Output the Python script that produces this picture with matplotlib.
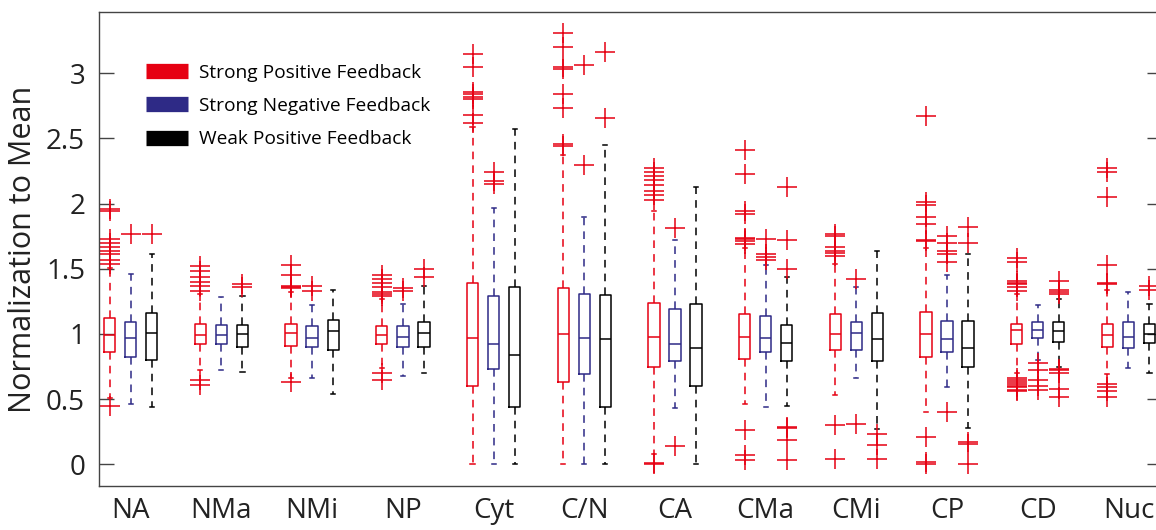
import matplotlib
matplotlib.use("Agg")
import matplotlib.pyplot as plt
from matplotlib.lines import Line2D

plt.rcParams['font.family'] = ['Open Sans', 'DejaVu Sans']

groups = ["NA", "NMa", "NMi", "NP", "Cyt", "C/N", "CA", "CMa", "CMi", "CP", "CD", "Nuc"]
series_names = ["Strong Positive Feedback", "Strong Negative Feedback", "Weak Positive Feedback"]
series_colors = ["#E60012", "#2E2A86", "#000000"]

# box stats per series: whisker low, q1, median, q3, whisker high
spf_whislo = [0.51, 0.72, 0.66, 0.74, 0.00, 0.00, 0.08, 0.46, 0.53, 0.40, 0.70, 0.69]
spf_q1     = [0.86, 0.92, 0.91, 0.92, 0.60, 0.63, 0.75, 0.81, 0.88, 0.82, 0.92, 0.90]
spf_med    = [0.99, 0.99, 1.01, 0.99, 0.97, 1.00, 0.98, 0.98, 1.00, 1.00, 1.03, 0.99]
spf_q3     = [1.12, 1.08, 1.08, 1.06, 1.39, 1.35, 1.24, 1.15, 1.15, 1.17, 1.08, 1.08]
spf_whishi = [1.51, 1.31, 1.32, 1.27, 2.59, 2.37, 1.94, 1.66, 1.54, 1.66, 1.31, 1.34]
spf_fliers = [
    [0.45, 1.54, 1.57, 1.61, 1.64, 1.67, 1.70, 1.73, 1.94, 1.96],
    [0.61, 0.65, 1.33, 1.37, 1.40, 1.44, 1.48, 1.52],
    [0.63, 1.35, 1.36, 1.37, 1.45, 1.53],
    [0.65, 0.70, 1.29, 1.31, 1.32, 1.36, 1.39, 1.42, 1.45],
    [2.62, 2.68, 2.80, 2.82, 2.84, 2.86, 3.05, 3.15],
    [2.44, 2.46, 2.73, 2.84, 3.03, 3.05, 3.20, 3.31],
    [0.00, 0.01, 2.03, 2.07, 2.10, 2.14, 2.18, 2.21, 2.24, 2.27],
    [0.03, 0.07, 0.26, 1.69, 1.71, 1.73, 1.74, 1.92, 1.94, 2.23, 2.41],
    [0.04, 0.30, 1.60, 1.62, 1.64, 1.67, 1.75, 1.77],
    [0.00, 0.02, 0.21, 1.71, 1.72, 1.84, 1.90, 1.99, 2.01, 2.67],
    [0.56, 0.57, 0.59, 0.60, 0.62, 0.63, 0.65, 0.66, 1.33, 1.36, 1.38, 1.39, 1.41, 1.55, 1.58],
    [0.52, 0.56, 0.59, 0.62, 1.38, 1.39, 1.53, 2.05, 2.24, 2.27],
]

snf_whislo = [0.46, 0.72, 0.66, 0.68, 0.00, 0.00, 0.43, 0.44, 0.66, 0.59, 0.80, 0.74]
snf_q1     = [0.82, 0.92, 0.90, 0.90, 0.73, 0.69, 0.79, 0.86, 0.88, 0.86, 0.97, 0.89]
snf_med    = [0.97, 0.99, 0.97, 0.98, 0.92, 0.97, 0.92, 0.97, 1.01, 0.96, 1.03, 0.98]
snf_q3     = [1.09, 1.07, 1.06, 1.06, 1.29, 1.31, 1.19, 1.14, 1.09, 1.10, 1.09, 1.09]
snf_whishi = [1.46, 1.28, 1.22, 1.23, 1.97, 1.90, 1.72, 1.53, 1.36, 1.45, 1.22, 1.32]
snf_fliers = [
    [1.77],
    [],
    [1.33, 1.37],
    [1.33, 1.35],
    [2.15, 2.17, 2.24],
    [2.30, 3.06],
    [0.14, 1.81],
    [1.57, 1.59, 1.61, 1.73],
    [0.31, 1.42],
    [0.40, 1.55, 1.61, 1.64, 1.70, 1.75],
    [0.57, 0.60, 0.65, 0.72, 0.78],
    [],
]

wpf_whislo = [0.44, 0.71, 0.54, 0.70, 0.00, 0.00, 0.00, 0.45, 0.27, 0.28, 0.75, 0.70]
wpf_q1     = [0.80, 0.90, 0.88, 0.90, 0.44, 0.44, 0.60, 0.79, 0.79, 0.75, 0.94, 0.93]
wpf_med    = [1.01, 1.00, 1.02, 1.01, 0.84, 0.96, 0.89, 0.93, 0.96, 0.89, 1.02, 1.00]
wpf_q3     = [1.16, 1.07, 1.11, 1.09, 1.36, 1.30, 1.23, 1.07, 1.16, 1.10, 1.09, 1.08]
wpf_whishi = [1.61, 1.29, 1.34, 1.37, 2.57, 2.45, 2.13, 1.44, 1.64, 1.61, 1.27, 1.23]
wpf_fliers = [
    [1.77],
    [1.36, 1.38],
    [],
    [1.44, 1.50],
    [],
    [2.66, 3.16],
    [],
    [0.03, 0.19, 0.28, 0.29, 1.50, 1.72, 2.13],
    [0.04, 0.15, 0.23],
    [0.00, 0.16, 0.17, 1.70, 1.82],
    [0.52, 0.58, 0.70, 0.72, 0.73, 1.31, 1.32, 1.34, 1.41],
    [1.34, 1.37],
]

all_series = [
    (spf_whislo, spf_q1, spf_med, spf_q3, spf_whishi, spf_fliers),
    (snf_whislo, snf_q1, snf_med, snf_q3, snf_whishi, snf_fliers),
    (wpf_whislo, wpf_q1, wpf_med, wpf_q3, wpf_whishi, wpf_fliers),
]

fig = plt.figure(figsize=(11.56, 5.30), dpi=100)
ax = fig.add_axes([99 / 1156, 1 - 486 / 530, (1162 - 99) / 1156, (486 - 12) / 530])

offsets = [-0.232, 0.0, 0.232]
centers = list(range(1, len(groups) + 1))

for (wlo, q1, med, q3, whi, fl), col, off in zip(all_series, series_colors, offsets):
    stats = []
    for i in range(len(groups)):
        stats.append(dict(whislo=wlo[i], q1=q1[i], med=med[i], q3=q3[i],
                          whishi=whi[i], fliers=fl[i]))
    ax.bxp(stats, positions=[c + off for c in centers], widths=0.125,
           showfliers=True, manage_ticks=False,
           boxprops=dict(color=col, lw=1.1),
           medianprops=dict(color=col, lw=1.1),
           whiskerprops=dict(color=col, lw=1.1, linestyle=(0, (5, 4))),
           capprops=dict(color=col, lw=1.1),
           capwidths=0.045,
           flierprops=dict(marker='+', markersize=14, markeredgewidth=1.1,
                           markeredgecolor="#E60012", linestyle='none'))

ax.set_xlim(0.65, 12.37)
ax.set_ylim(-0.166, 3.47)
ax.set_xticks(centers)
ax.set_xticklabels(groups, fontsize=20)
ax.set_yticks([0, 0.5, 1, 1.5, 2, 2.5, 3])
ax.set_yticklabels(["0", "0.5", "1", "1.5", "2", "2.5", "3"], fontsize=20)
ax.tick_params(axis='x', length=0, pad=8, colors='#222222')
ax.tick_params(axis='y', direction='in', length=11, width=1, right=True,
               colors='#444444', labelcolor='#222222', pad=10)
ax.set_ylabel("Normalization to Mean", fontsize=22, color='#222222', labelpad=6)
for sp in ax.spines.values():
    sp.set_color('#444444')
    sp.set_linewidth(1)

handles = [Line2D([0], [0], color=c, lw=11, solid_capstyle='butt') for c in series_colors]
ax.legend(handles, series_names, loc='upper left', bbox_to_anchor=(0.037, 0.907),
          frameon=False, fontsize=13.8, handlelength=2.2, handletextpad=0.55,
          labelspacing=0.8, borderaxespad=0)

fig.savefig("out.png", dpi=100)
